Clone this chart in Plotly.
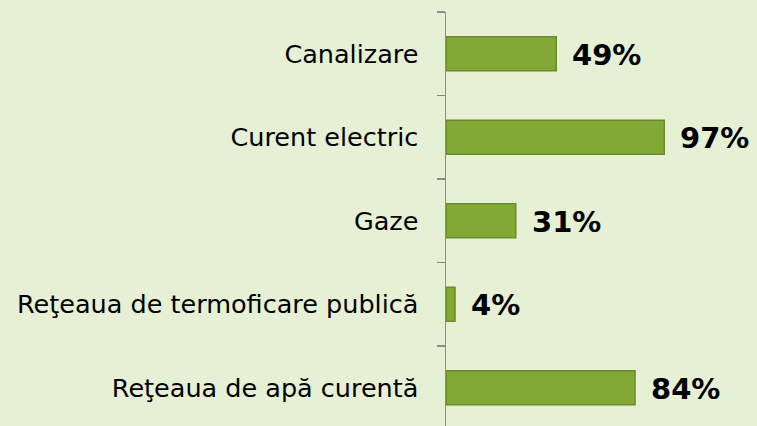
import plotly.graph_objects as go

categories = ["Canalizare", "Curent electric", "Gaze",
              "Reţeaua de termoficare publică", "Reţeaua de apă curentă"]
values = [49, 97, 31, 4, 84]
value_labels = ["49%", "97%", "31%", "4%", "84%"]

BG = "#E6F0D5"
FONT = "DejaVu Sans, Verdana, sans-serif"

fig = go.Figure()
fig.add_trace(go.Bar(
    x=values, y=categories, orientation="h",
    marker=dict(color="#82A836", line=dict(color="#6A8B27", width=1.5)),
    width=0.41, hoverinfo="skip", showlegend=False,
))

for v, c, t in zip(values, categories, value_labels):
    fig.add_annotation(x=v, y=c, text="<b>%s</b>" % t, showarrow=False,
                       xanchor="left", yanchor="middle", xshift=14, yshift=-1,
                       font=dict(family=FONT, size=29, color="#000000"))

fig.update_layout(
    width=757, height=426,
    margin=dict(l=446, r=86, t=12, b=0),
    paper_bgcolor=BG, plot_bgcolor=BG,
    font=dict(family=FONT, size=26, color="#000000"),
    xaxis=dict(range=[0, 100], visible=False, showgrid=False, zeroline=False),
    yaxis=dict(range=[4.458, -0.5], showgrid=False, zeroline=False,
               showline=True, linecolor="#8C8C8C", linewidth=1.5,
               ticks="outside", tickson="boundaries", ticklen=8,
               tickcolor="#8C8C8C", tickwidth=1.5, ticklabelstandoff=21,
               tickfont=dict(family=FONT, size=25.5, color="#000000")),
)

fig.write_html("out.html",
               config={"displayModeBar": False, "staticPlot": True},
               post_script="document.body.style.margin='0';"
                           "document.body.style.background='%s';" % BG)
